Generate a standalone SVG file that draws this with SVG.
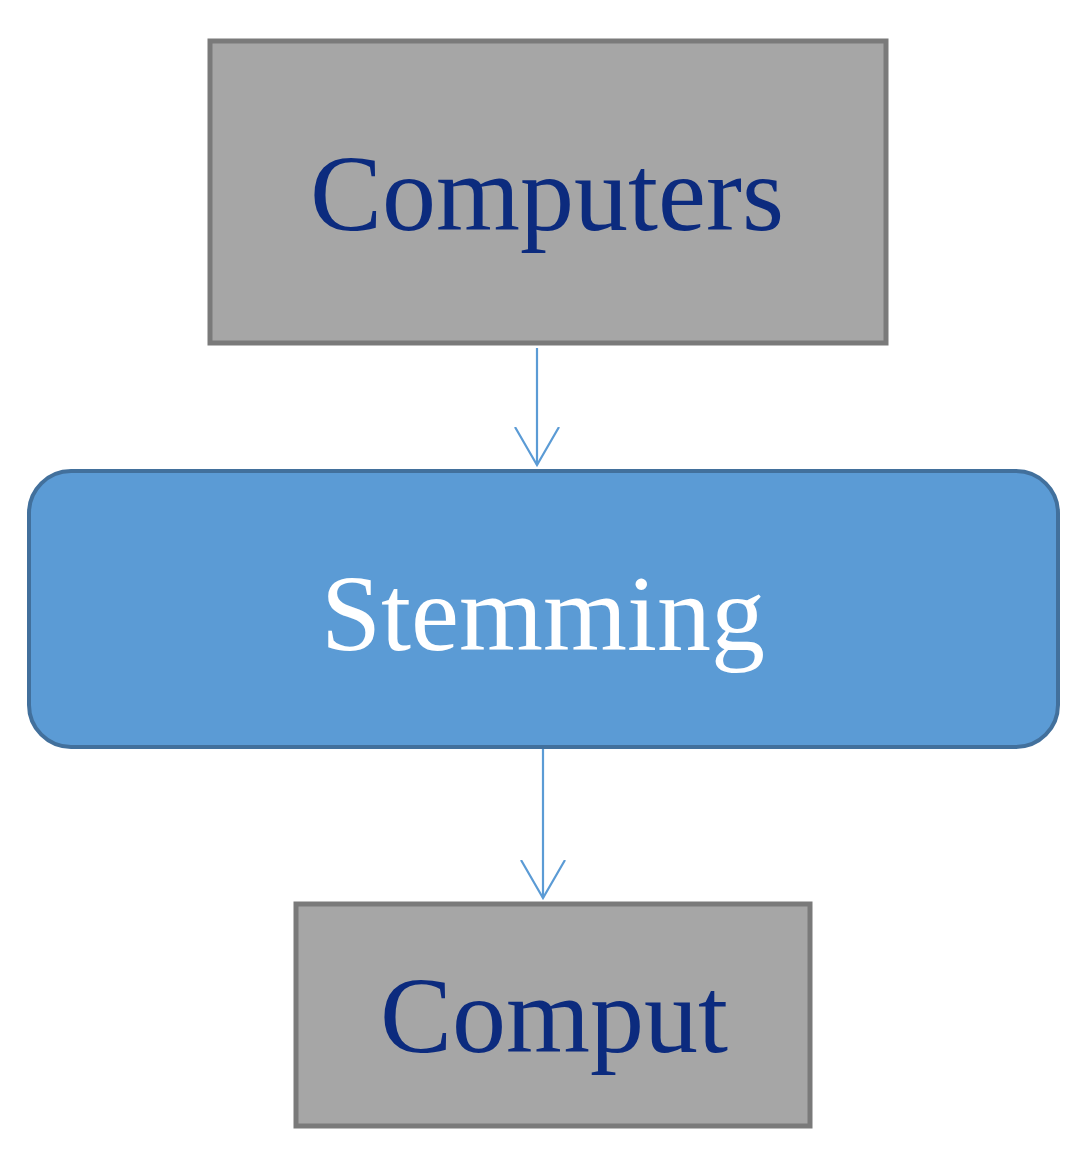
<svg xmlns="http://www.w3.org/2000/svg" width="1085" height="1162" viewBox="0 0 1085 1162">
<style>
.gbox{fill:#a6a6a6;stroke:#7a7a7a;stroke-width:5}
.bbox{fill:#5b9bd5;stroke:#42709c;stroke-width:4}
.t{font-family:"Liberation Serif","Times New Roman",serif;font-size:108px;text-anchor:middle}
.dk{fill:#0c2b7e}
.wh{fill:#ffffff}
.c{stroke:#5b9bd5;stroke-width:2.2;fill:none}
</style>
<defs>
<marker id="ah" markerWidth="40" markerHeight="46" refX="38" refY="23" orient="auto" markerUnits="userSpaceOnUse" viewBox="0 0 40 46">
<path d="M0,1 L38,23 L0,45" fill="none" stroke="#5b9bd5" stroke-width="2.2"/>
</marker>
</defs>
<rect width="1085" height="1162" fill="#ffffff"/>
<g id="connectors">
<line class="c" x1="537" y1="348" x2="537" y2="465" marker-end="url(#ah)"/>
<line class="c" x1="543" y1="749" x2="543" y2="898" marker-end="url(#ah)"/>
</g>
<g id="node-computers">
<rect class="gbox" x="210" y="41" width="676" height="302"/>
<text class="t dk" x="547" y="230">Computers</text>
</g>
<g id="node-stemming">
<rect class="bbox" x="29" y="471" width="1029" height="276" rx="42" ry="42"/>
<text class="t wh" x="543" y="650">Stemming</text>
</g>
<g id="node-comput">
<rect class="gbox" x="296" y="904" width="514" height="222"/>
<text class="t dk" x="554" y="1052">Comput</text>
</g>
</svg>
